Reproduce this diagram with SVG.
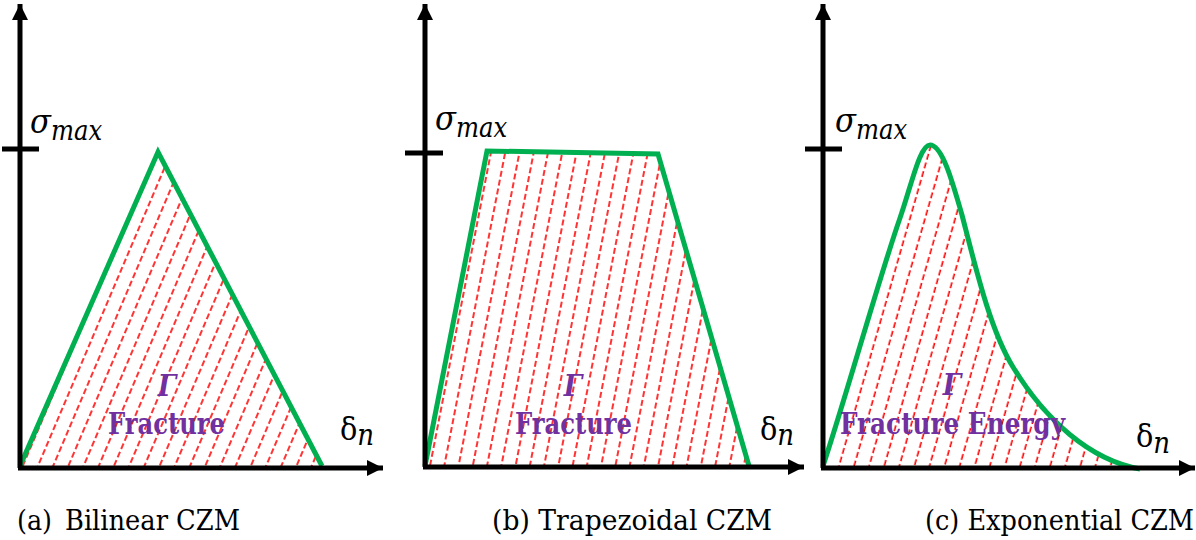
<svg xmlns="http://www.w3.org/2000/svg" width="1196" height="540" viewBox="0 0 1196 540">
  <style>
    text { font-family: 'DejaVu Serif Condensed', 'DejaVu Serif', serif; }
    .axis { stroke: #000; stroke-width: 5; fill: none; }
    .tick { stroke: #000; stroke-width: 5; }
    .curve { stroke: #00b050; stroke-width: 5; fill: none; stroke-linejoin: miter; }
    .hl { stroke: #ff0000; stroke-width: 1.6; stroke-dasharray: 6 3; }
    .sig { font-style: italic; fill: #000; font-size: 34px; }
    .sub { font-size: 27px; }
    .del { fill: #000; font-size: 32px; }
    .n { font-style: italic; font-size: 29px; }
    .gam { font-style: italic; font-weight: bold; font-size: 29px; fill: #7030a0; text-anchor: middle; }
    .fe { font-weight: bold; font-size: 29px; fill: #7030a0; }
    .cap { font-size: 27px; fill: #000; }
  </style>
  <defs>
    <pattern id="hatchA" patternUnits="userSpaceOnUse" width="14" height="9" patternTransform="rotate(23)">
      <line class="hl" x1="7" y1="0" x2="7" y2="9"/>
    </pattern>
    <pattern id="hatchB" patternUnits="userSpaceOnUse" width="14" height="9" patternTransform="rotate(11)">
      <line class="hl" x1="7" y1="0" x2="7" y2="9"/>
    </pattern>
    <pattern id="hatchC" patternUnits="userSpaceOnUse" width="14.5" height="9" patternTransform="rotate(16)">
      <line class="hl" x1="7" y1="0" x2="7" y2="9"/>
    </pattern>
    <marker id="arr" markerUnits="userSpaceOnUse" markerWidth="18" markerHeight="18" refX="16" refY="8" orient="auto">
      <path d="M0,0 L16,8 L0,16 Z" fill="#000"/>
    </marker>
  </defs>

  <!-- Panel (a) Bilinear -->
  <g id="panel-a">
    <path id="fill-a" d="M20,466 L158,152 L322,466 Z" fill="url(#hatchA)"/>
    <path id="curve-a" class="curve" d="M20,466 L158,152 L322,466"/>
    <text class="gam" x="167" y="396">Γ</text>
    <text class="fe" x="108" y="434" textLength="117" lengthAdjust="spacingAndGlyphs">Fracture</text>
    <text class="sig" x="30" y="133">σ<tspan class="sub" dy="7">max</tspan></text>
    <text class="del" x="340" y="440">δ<tspan class="n" dy="5">n</tspan></text>
    <line id="tick-a" class="tick" x1="2" y1="149" x2="39" y2="149"/>
  </g>

  <!-- Panel (b) Trapezoidal -->
  <g id="panel-b">
    <path id="fill-b" d="M425,466 L487,151 L658,154 L749,466 Z" fill="url(#hatchB)"/>
    <path id="curve-b" class="curve" d="M425,466 L487,151 L658,154 L749,466"/>
    <text class="gam" x="573" y="396">Γ</text>
    <text class="fe" x="515" y="434" textLength="117" lengthAdjust="spacingAndGlyphs">Fracture</text>
    <text class="sig" x="435" y="130">σ<tspan class="sub" dy="7">max</tspan></text>
    <text class="del" x="760" y="440">δ<tspan class="n" dy="5">n</tspan></text>
    <line id="tick-b" class="tick" x1="405" y1="153" x2="443" y2="153"/>
  </g>

  <!-- Panel (c) Exponential -->
  <g id="panel-c">
    <path id="fill-c" d="M823,466 C845,400 880,275 900,218 C912,183 920,145 930,145 C942,145 952,180 962,215 C975,265 990,330 1013,367 C1045,420 1090,460 1140,469 L823,469 Z" fill="url(#hatchC)"/>
    <path id="curve-c" class="curve" d="M823,466 C845,400 880,275 900,218 C912,183 920,145 930,145 C942,145 952,180 962,215 C975,265 990,330 1013,367 C1045,420 1090,460 1140,469"/>
    <text class="gam" x="952" y="395">Γ</text>
    <text class="fe" x="840" y="434" textLength="225" lengthAdjust="spacingAndGlyphs">Fracture Energy</text>
    <text class="sig" x="835" y="132">σ<tspan class="sub" dy="7">max</tspan></text>
    <text class="del" x="1136" y="447">δ<tspan class="n" dy="6">n</tspan></text>
    <line id="tick-c" class="tick" x1="805" y1="149" x2="842" y2="149"/>
  </g>

  <!-- Axes (connectors) -->
  <g id="connectors">
    <line class="axis" x1="20" y1="468" x2="20" y2="4" marker-end="url(#arr)"/>
    <line class="axis" x1="18" y1="468" x2="383" y2="468" marker-end="url(#arr)"/>
    <line class="axis" x1="425" y1="467" x2="425" y2="4" marker-end="url(#arr)"/>
    <line class="axis" x1="423" y1="467" x2="804" y2="467" marker-end="url(#arr)"/>
    <line class="axis" x1="823" y1="468" x2="823" y2="4" marker-end="url(#arr)"/>
    <line class="axis" x1="821" y1="468" x2="1195" y2="468" marker-end="url(#arr)"/>
  </g>

  <!-- Captions -->
  <g id="captions">
    <text class="cap" x="17" y="530" textLength="35" lengthAdjust="spacingAndGlyphs">(a)</text>
    <text class="cap" x="65" y="530" textLength="175" lengthAdjust="spacingAndGlyphs">Bilinear CZM</text>
    <text class="cap" x="492" y="530" textLength="280" lengthAdjust="spacingAndGlyphs">(b) Trapezoidal CZM</text>
    <text class="cap" x="925" y="530" textLength="269" lengthAdjust="spacingAndGlyphs">(c) Exponential CZM</text>
  </g>
</svg>
